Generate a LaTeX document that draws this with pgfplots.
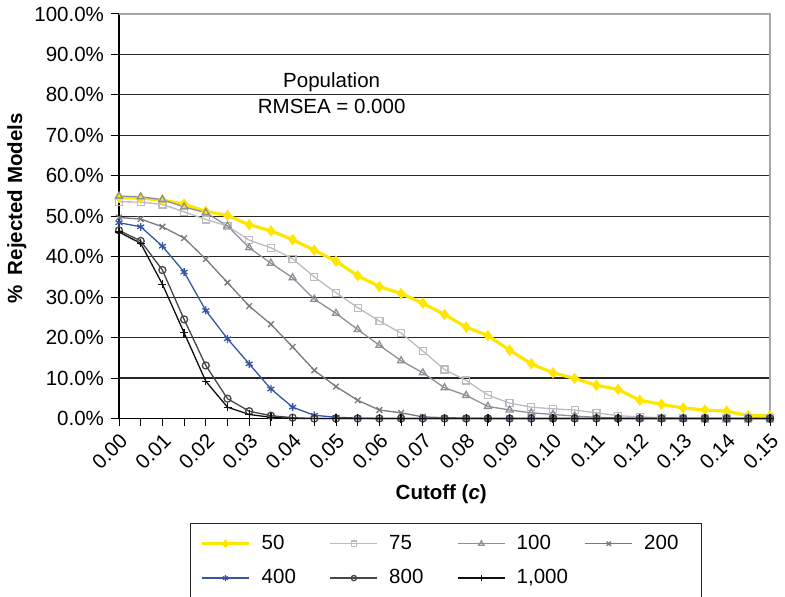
\documentclass[border=0pt]{standalone}
\usepackage{fontspec}
\setmainfont{Liberation Sans}
\usepackage{pgfplots}
\usepackage{pgfplotstable}
\pgfplotsset{compat=1.18}
\definecolor{c50}{RGB}{255,230,0}
\definecolor{c75}{RGB}{185,188,192}
\definecolor{c100}{RGB}{140,144,150}
\definecolor{c200}{RGB}{118,122,128}
\definecolor{c400}{RGB}{55,85,165}
\definecolor{c800}{RGB}{70,70,70}
\definecolor{c1000}{RGB}{15,15,15}
\pgfplotstableread{
c     n50   n75   n100  n200  n400  n800  n1000
0.000 54.6  53.6  55.0  49.7  48.4  46.5  46.1
0.005 54.5  53.5  54.8  49.3  47.4  43.9  43.3
0.010 54.0  52.9  54.1  47.4  42.6  36.7  33.2
0.015 53.0  51.1  52.3  44.6  36.2  24.5  21.2
0.020 51.2  49.2  50.9  39.4  26.7  13.1  9.2
0.025 50.2  47.6  47.6  33.6  19.7  4.9   2.8
0.030 47.9  44.1  42.2  27.8  13.5  1.8   1.0
0.035 46.4  42.2  38.4  23.3  7.3   0.7   0.3
0.040 44.2  39.5  34.8  17.7  2.8   0.2   0.0
0.045 41.6  35.0  29.5  11.9  0.8   0.0   0.0
0.050 38.9  31.1  26.0  7.9   0.3   0.0   0.0
0.055 35.3  27.4  22.0  4.5   0.1   0.0   0.0
0.060 32.6  24.1  18.1  2.1   0.0   0.0   0.0
0.065 30.9  21.1  14.3  1.4   0.0   0.0   0.0
0.070 28.5  16.7  11.3  0.4   0.0   0.0   0.0
0.075 25.7  12.1  7.6   0.2   0.0   0.0   0.0
0.080 22.6  9.4   5.7   0.1   0.0   0.0   0.0
0.085 20.5  5.8   3.0   0.0   0.0   0.0   0.0
0.090 16.9  3.8   2.1   0.0   0.0   0.0   0.0
0.095 13.5  2.8   1.4   0.0   0.0   0.0   0.0
0.100 11.3  2.4   1.0   0.0   0.0   0.0   0.0
0.105 9.9   2.1   0.6   0.0   0.0   0.0   0.0
0.110 8.2   1.4   0.3   0.0   0.0   0.0   0.0
0.115 7.2   0.7   0.1   0.0   0.0   0.0   0.0
0.120 4.5   0.4   0.0   0.0   0.0   0.0   0.0
0.125 3.5   0.2   0.0   0.0   0.0   0.0   0.0
0.130 2.6   0.1   0.0   0.0   0.0   0.0   0.0
0.135 2.1   0.0   0.0   0.0   0.0   0.0   0.0
0.140 1.8   0.0   0.0   0.0   0.0   0.0   0.0
0.145 0.7   0.0   0.0   0.0   0.0   0.0   0.0
0.150 0.7   0.0   0.0   0.0   0.0   0.0   0.0
}\datatable
\begin{document}
\fontsize{20.5bp}{24.6bp}\selectfont
\begin{tikzpicture}
\begin{axis}[
  at={(119bp,178.5bp)}, anchor=south west,
  scale only axis, width=651bp, height=404.5bp,
  xmin=0, xmax=0.15, ymin=0, ymax=100,
  clip=false,
  axis line style={draw=gray!70, line width=1bp},
  xtick pos=left, ytick pos=left,
  tick align=outside,
  xtick={0,0.01,0.02,0.03,0.04,0.05,0.06,0.07,0.08,0.09,0.10,0.11,0.12,0.13,0.14,0.15},
  minor xtick={0.005,0.015,0.025,0.035,0.045,0.055,0.065,0.075,0.085,0.095,0.105,0.115,0.125,0.135,0.145},
  ytick={0,10,20,30,40,50,60,70,80,90,100},
  major tick length=8bp, minor tick length=8bp,
  tick style={black, line width=1bp},
  ymajorgrids, grid style={black!85, line width=1.2bp},
  /pgf/number format/assume math mode=true,
  xticklabel={\pgfmathprintnumber[fixed,fixed zerofill,precision=2]{\tick}},
  yticklabel={\pgfmathprintnumber[fixed,fixed zerofill,precision=1]{\tick}\%},
  xticklabel style={rotate=45, anchor=north east, xshift=3bp, yshift=3.5bp},
  xlabel={\textbf{Cutoff (\textit{c})}},
  ylabel={\textbf{\%\hspace{4bp} Rejected Models}},
  every axis x label/.style={at={(axis description cs:0.495,-0.188)}, anchor=center},
  every axis y label/.style={at={(axis description cs:-0.157,0.52)}, anchor=center, rotate=90},
  legend columns=4,
  legend cell align=left,
  legend image code/.code={\draw[mark repeat=2,mark phase=2,/tikz/every mark/.append style={scale=0.75}] plot coordinates {(0bp,0bp) (23.5bp,0bp) (47bp,0bp)};},
  legend style={at={(axis description cs:0.109,-0.2574)}, anchor=north west,
    draw=black!85, line width=0.8bp, inner xsep=10bp, inner ysep=10bp, row sep=13bp,
    /tikz/every odd column/.append style={column sep=9.2bp},
    /tikz/every even column/.append style={column sep=0bp}},
]
\draw[black, line width=1.3bp] (rel axis cs:0,1) -- (rel axis cs:0,0) -- (rel axis cs:1,0);
\draw[gray!70, line width=1.2bp] (rel axis cs:0,1) -- (rel axis cs:1,1) -- (rel axis cs:1,0);
\addplot[color=c50, line width=3.2bp, mark=diamond*, mark size=5bp, mark options={fill=c50, draw=c50, line width=1bp}] table[x=c, y=n50] {\datatable};
\addlegendentry{\makebox[66bp][l]{50}}
\addplot[color=c75, line width=1.3bp, mark=square, mark size=3.5bp] table[x=c, y=n75] {\datatable};
\addlegendentry{\makebox[66bp][l]{75}}
\addplot[color=c100, line width=1.3bp, mark=triangle, mark size=4bp] table[x=c, y=n100] {\datatable};
\addlegendentry{\makebox[66bp][l]{100}}
\addplot[color=c200, line width=1.3bp, mark=x, mark size=4bp] table[x=c, y=n200] {\datatable};
\addlegendentry{\makebox[45bp][l]{200}}
\addplot[color=c400, line width=1.3bp, mark=asterisk, mark size=4bp] table[x=c, y=n400] {\datatable};
\addlegendentry{\makebox[66bp][l]{400}}
\addplot[color=c800, line width=1.3bp, mark=o, mark size=3.5bp] table[x=c, y=n800] {\datatable};
\addlegendentry{\makebox[66bp][l]{800}}
\addplot[color=c1000, line width=1.3bp, mark=+, mark size=4bp] table[x=c, y=n1000] {\datatable};
\addlegendentry{\makebox[66bp][l]{1,000}}
\node[align=center, font=\fontsize{20.5bp}{26bp}\selectfont] at (axis cs:0.049,80.4) {Population\\RMSEA = 0.000};
\end{axis}
\pgfresetboundingbox
\path[use as bounding box] (0,0) rectangle (785bp,597bp);
\end{tikzpicture}
\end{document}
